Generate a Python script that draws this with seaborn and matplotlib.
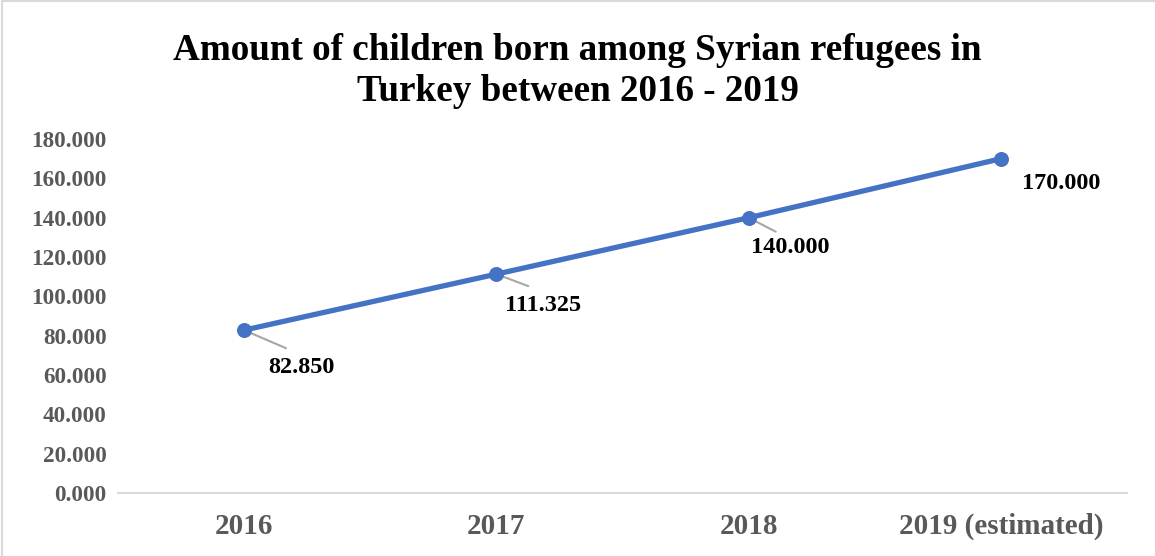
import matplotlib
matplotlib.use("Agg")
import matplotlib.pyplot as plt
from matplotlib.lines import Line2D
import seaborn as sns
import pandas as pd

years = ["2016", "2017", "2018", "2019 (estimated)"]
births = [82850, 111325, 140000, 170000]
value_labels = ["82.850", "111.325", "140.000", "170.000"]
y_ticks = [0, 20000, 40000, 60000, 80000, 100000, 120000, 140000, 160000, 180000]
y_tick_labels = ["0.000", "20.000", "40.000", "60.000", "80.000",
                 "100.000", "120.000", "140.000", "160.000", "180.000"]
title = "Amount of children born among Syrian refugees in\nTurkey between 2016 - 2019"

df = pd.DataFrame({"year": years, "births": births})

sns.set_theme(style="white")
plt.rcParams["font.family"] = ["Liberation Serif", "DejaVu Serif"]

fig = plt.figure(figsize=(11.55, 5.56), dpi=100)
ax = fig.add_axes([0.102, 0.113, 0.874, 0.637])

sns.lineplot(data=df, x="year", y="births", ax=ax, color="#4472C4",
             linewidth=3.8, marker="o", markersize=10,
             markeredgecolor="#4472C4", sort=False)

ax.set_xlim(-0.5, len(years) - 0.5)
ax.set_ylim(0, 180000)
ax.set_yticks(y_ticks)
ax.set_yticklabels(y_tick_labels)
ax.set_xlabel("")
ax.set_ylabel("")

for lab in ax.get_yticklabels():
    lab.set_fontsize(16.7)
    lab.set_fontweight("bold")
    lab.set_color("#595959")
for lab in ax.get_xticklabels():
    lab.set_fontsize(21)
    lab.set_fontweight("bold")
    lab.set_color("#595959")
ax.tick_params(axis="y", length=0, pad=8)
ax.tick_params(axis="x", length=0, pad=14)

for side in ["top", "right", "left"]:
    ax.spines[side].set_visible(False)
ax.spines["bottom"].set_color("#D9D9D9")
ax.spines["bottom"].set_linewidth(1.5)

# data labels, with leader lines for the first three points
text_offsets = [(57, -37), (47, -31), (42, -30), (60, -25)]
leader_ends = [(42, -18), (32, -12), (27, -14), None]
for i, (val, txt) in enumerate(zip(births, value_labels)):
    if leader_ends[i] is not None:
        ax.annotate("", xy=(i, val), xytext=leader_ends[i],
                    textcoords="offset pixels",
                    arrowprops=dict(arrowstyle="-", color="#A6A6A6", lw=1.5,
                                    shrinkA=0, shrinkB=0), zorder=1)
    ax.annotate(txt, xy=(i, val), xytext=text_offsets[i],
                textcoords="offset pixels", ha="center", va="center",
                fontsize=17.5, fontweight="bold", color="black")

fig.text(0.5, 0.873, title, ha="center", va="center", fontsize=26.7,
         fontweight="bold", color="black", linespacing=1.22)

# chart frame edges
fig.add_artist(Line2D([0.002, 0.002], [0, 0.998], transform=fig.transFigure,
                      color="#D9D9D9", lw=1.5))
fig.add_artist(Line2D([0.002, 1], [0.998, 0.998], transform=fig.transFigure,
                      color="#D9D9D9", lw=1.5))

fig.savefig("out.png", dpi=100)
